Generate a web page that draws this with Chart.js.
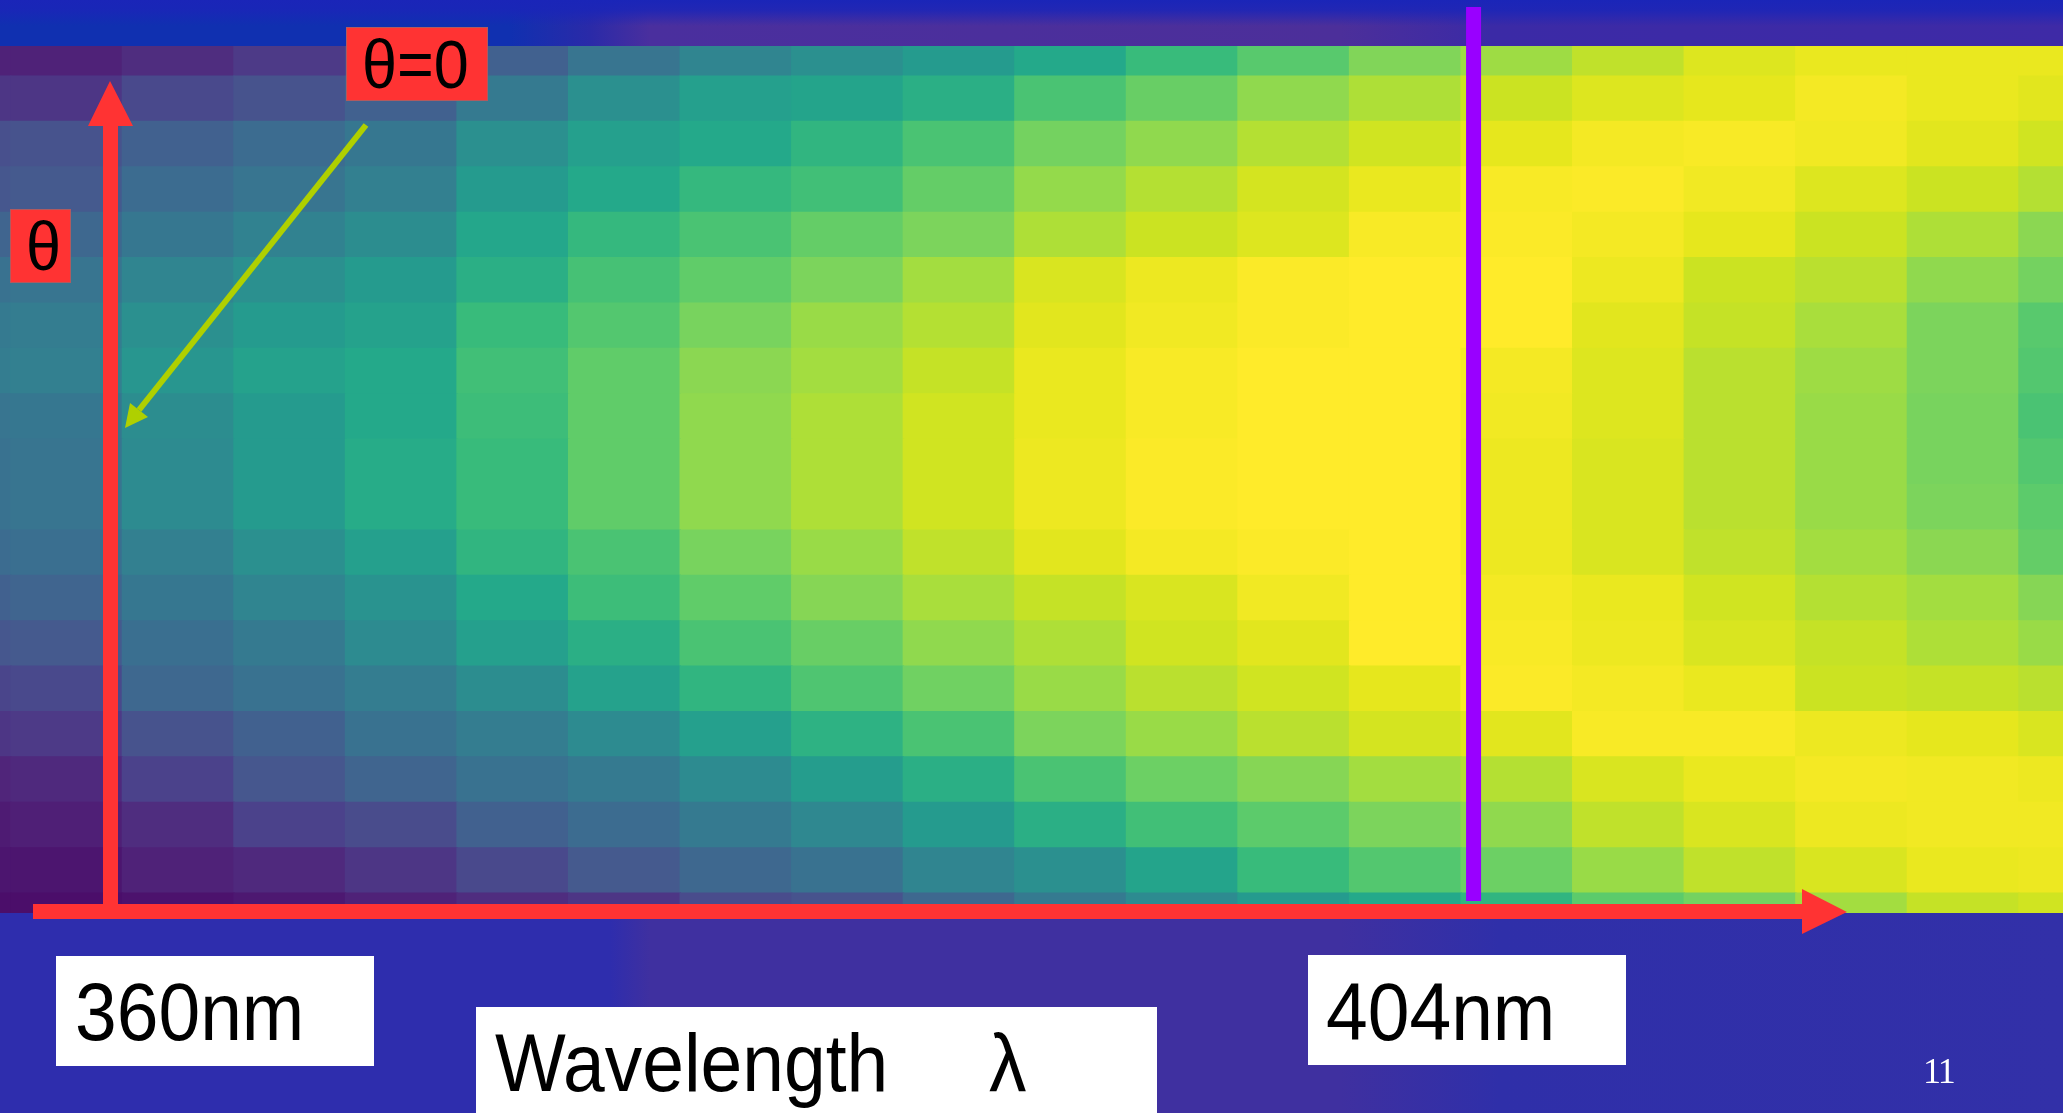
<!DOCTYPE html>
<html>
<head>
<meta charset="utf-8">
<title>Wavelength vs angle</title>
<script src="https://cdn.jsdelivr.net/npm/chart.js@4"></script>
<style>
    html, body { margin: 0; padding: 0; width: 2063px; height: 1113px; overflow: hidden; background: #2f2dab; }
    #topBand { position: absolute; left: 0; top: 0; width: 2063px; height: 46px;
        background: linear-gradient(to bottom, #1a25b8 0, rgba(26,37,184,.85) 10px, rgba(26,37,184,0) 26px),
                    linear-gradient(to right, #1030b0 0, #1030b0 510px, #2a2aa8 590px, #4a2f9e 650px, #4c2f9a 1340px, #3b2aa6 1490px, #3e2aa6 2063px); }
    #bottomBand { position: absolute; left: 0; top: 913px; width: 2063px; height: 200px;
        background: linear-gradient(to right, #2e2dad 0, #2e2dad 610px, #3f30a0 650px, #3f30a0 1340px, #2f2fa9 1500px, #3230a8 2063px); }
    canvas { position: absolute; left: 0; top: 0; filter: blur(0.7px); }
    .label { position: absolute; font-family: "Liberation Sans", Arial, sans-serif; color: #000; white-space: pre; }
    .red { background: #ff3333; box-shadow: inset 0 0 0 1px #b05a60; font-size: 63px; }
    .white { background: #fff; font-size: 75px; }
    .label span { position: absolute; line-height: 1; transform: scaleY(1.08); transform-origin: left bottom; }
    #pageNumber { position: absolute; left: 1923px; top: 1050px; font: 36px "Liberation Serif", serif; color: #fff; letter-spacing: -2px; }
</style>
</head>
<body>
<div id="topBand"></div>
<div id="bottomBand"></div>
<canvas id="heatCanvas" width="2063" height="1113"></canvas>
<div class="label red" style="left:346px;top:27px;width:142px;height:74px"><span style="left:16px;top:9px">θ=0</span></div>
<div class="label red" style="left:10px;top:209px;width:61px;height:74px"><span style="left:16px;top:9px">θ</span></div>
<div class="label white" style="left:56px;top:956px;width:318px;height:110px"><span style="left:19px;top:22px">360nm</span></div>
<div class="label white" style="left:1308px;top:955px;width:318px;height:110px"><span style="left:18px;top:23px">404nm</span></div>
<div class="label white" style="left:476px;top:1007px;width:681px;height:106px"><span style="left:19px;top:22px">Wavelength</span><span style="left:513px;top:22px">λ</span></div>
<div id="pageNumber">11</div>
<script>
// wavelength (nm) at the centre of each column
var wavelengths = [355.0, 358.6, 362.2, 365.8, 369.4, 373.0, 376.6, 380.2, 383.8, 387.4, 391.0, 394.6, 398.2, 401.8, 405.4, 409.0, 412.6, 416.2, 419.8, 423.4];
var lineWavelength = 404;

// intensity 0-100, one list per theta row, top to bottom
var row01 = [7, 7, 10, 13, 17, 24, 30, 36, 40, 44, 50, 56, 63, 73, 79, 85, 91, 94, 94, 94];
var row02 = [12, 12, 17, 20, 24, 32, 40, 46, 48, 52, 60, 67, 76, 82, 87, 91, 93, 97, 94, 92];
var row03 = [19, 20, 24, 27, 31, 40, 46, 50, 54, 60, 70, 76, 83, 88, 93, 97, 98, 96, 92, 88];
var row04 = [21, 22, 27, 30, 34, 44, 50, 55, 58, 66, 77, 83, 89, 94, 98, 99, 96, 91, 87, 83];
var row05 = [25, 26, 31, 35, 39, 49, 55, 60, 66, 72, 82, 87, 91, 98, 99, 97, 93, 87, 82, 75];
var row06 = [29, 30, 36, 40, 44, 52, 59, 65, 72, 80, 90, 95, 99, 100, 100, 95, 87, 84, 76, 70];
var row07 = [32, 33, 40, 44, 47, 56, 62, 71, 78, 83, 92, 96, 99, 100, 100, 92, 86, 81, 72, 63];
var row08 = [33, 34, 42, 47, 50, 58, 65, 75, 80, 86, 94, 98, 100, 100, 97, 91, 84, 79, 72, 62];
var row09 = [30, 31, 39, 44, 50, 57, 65, 76, 82, 88, 94, 98, 100, 100, 96, 91, 84, 78, 71, 60];
var row10 = [29, 30, 38, 44, 51, 56, 65, 76, 82, 88, 95, 99, 100, 100, 95, 90, 84, 78, 71, 62];
var row11 = [29, 30, 38, 44, 51, 56, 65, 76, 82, 88, 95, 99, 100, 100, 95, 90, 84, 78, 72, 64];
var row12 = [27, 28, 34, 40, 46, 54, 60, 71, 78, 85, 92, 97, 99, 100, 95, 90, 85, 80, 75, 66];
var row13 = [24, 25, 31, 36, 41, 50, 57, 65, 74, 81, 86, 90, 96, 100, 97, 94, 88, 83, 80, 74];
var row14 = [21, 22, 28, 32, 38, 46, 52, 60, 67, 76, 82, 88, 92, 100, 98, 95, 90, 86, 82, 78];
var row15 = [16, 17, 26, 29, 33, 39, 47, 54, 61, 69, 78, 84, 88, 93, 99, 97, 94, 87, 86, 84];
var row16 = [12, 13, 20, 24, 29, 33, 38, 46, 53, 60, 72, 78, 84, 89, 92, 98, 98, 95, 93, 90];
var row17 = [8, 9, 15, 21, 25, 29, 32, 38, 45, 52, 60, 68, 74, 80, 83, 90, 94, 97, 96, 95];
var row18 = [5, 6, 10, 15, 18, 24, 27, 32, 37, 44, 52, 58, 64, 72, 76, 85, 90, 95, 96, 96];
var row19 = [3, 3, 7, 9, 12, 17, 22, 26, 29, 36, 40, 48, 56, 62, 68, 78, 85, 90, 94, 95];
var row20 = [1, 1, 2, 4, 7, 10, 12, 18, 20, 26, 32, 38, 44, 50, 54, 64, 70, 80, 86, 88];

var rows = [row01, row02, row03, row04, row05, row06, row07, row08, row09, row10,
            row11, row12, row13, row14, row15, row16, row17, row18, row19, row20];

// colour ramp, stops are [intensity, r, g, b]
var ramp = [
    [0, 74, 11, 104], [8, 80, 37, 122], [14, 76, 62, 138], [22, 69, 90, 142], [28, 58, 111, 144],
    [36, 48, 133, 144], [44, 37, 155, 142], [50, 36, 169, 138], [56, 56, 187, 123], [64, 92, 203, 107],
    [72, 124, 212, 92], [80, 163, 221, 64], [87, 203, 227, 34], [93, 230, 231, 29], [100, 255, 235, 42]
];

function colourFor(value) {
    for (var i = 1; i < ramp.length; i++) {
        if (value <= ramp[i][0]) {
            var a = ramp[i - 1], b = ramp[i];
            var t = (value - a[0]) / (b[0] - a[0]);
            return "rgb(" + Math.round(a[1] + (b[1] - a[1]) * t) + "," + Math.round(a[2] + (b[2] - a[2]) * t) + "," + Math.round(a[3] + (b[3] - a[3]) * t) + ")";
        }
    }
    return "rgb(255,235,42)";
}

// stacked from the bottom up, so the last row in the list goes first
var datasets = rows.slice().reverse().map(function(row) {
    return {
        data: wavelengths.map(function(w) { return { x: w, y: 1 }; }),
        backgroundColor: row.map(colourFor),
        borderWidth: 0,
        inflateAmount: 0.5,
        barThickness: 112
    };
});

function arrow(ctx, points, colour) {
    ctx.fillStyle = colour;
    ctx.beginPath();
    ctx.moveTo(points[0][0], points[0][1]);
    for (var i = 1; i < points.length; i++) ctx.lineTo(points[i][0], points[i][1]);
    ctx.closePath();
    ctx.fill();
}

var overlayPlugin = {
    id: "overlay",
    afterDraw: function(chart) {
        var ctx = chart.ctx;
        ctx.save();
        // theta axis
        arrow(ctx, [[103, 126], [88, 126], [110, 81], [133, 126], [118, 126], [118, 905], [103, 905]], "#ff3333");
        // wavelength axis
        arrow(ctx, [[33, 904], [1802, 904], [1802, 889], [1847, 912], [1802, 934], [1802, 919], [33, 919]], "#ff3333");
        // theta=0 pointer
        ctx.strokeStyle = "#afd000";
        ctx.lineWidth = 6;
        ctx.beginPath();
        ctx.moveTo(366, 125);
        ctx.lineTo(139, 410);
        ctx.stroke();
        arrow(ctx, [[125, 428], [130, 403], [148, 417]], "#afd000");
        // 404nm marker
        var x = chart.scales.x.getPixelForValue(lineWavelength);
        ctx.fillStyle = "#9900ff";
        ctx.fillRect(x - 7.5, 7, 15, 894);
        ctx.restore();
    }
};

new Chart(document.getElementById("heatCanvas"), {
    type: "bar",
    data: { datasets: datasets },
    plugins: [overlayPlugin],
    options: {
        responsive: false,
        animation: false,
        layout: { padding: { left: 0, right: 0, top: 46, bottom: 200 } },
        plugins: { legend: { display: false }, tooltip: { enabled: false }, title: { display: false } },
        scales: {
            x: { type: "linear", stacked: true, offset: false, min: 356.45, max: 423.02, display: false },
            y: { type: "linear", stacked: true, min: 0.56, max: 19.66, display: false }
        }
    }
});
</script>
</body>
</html>
